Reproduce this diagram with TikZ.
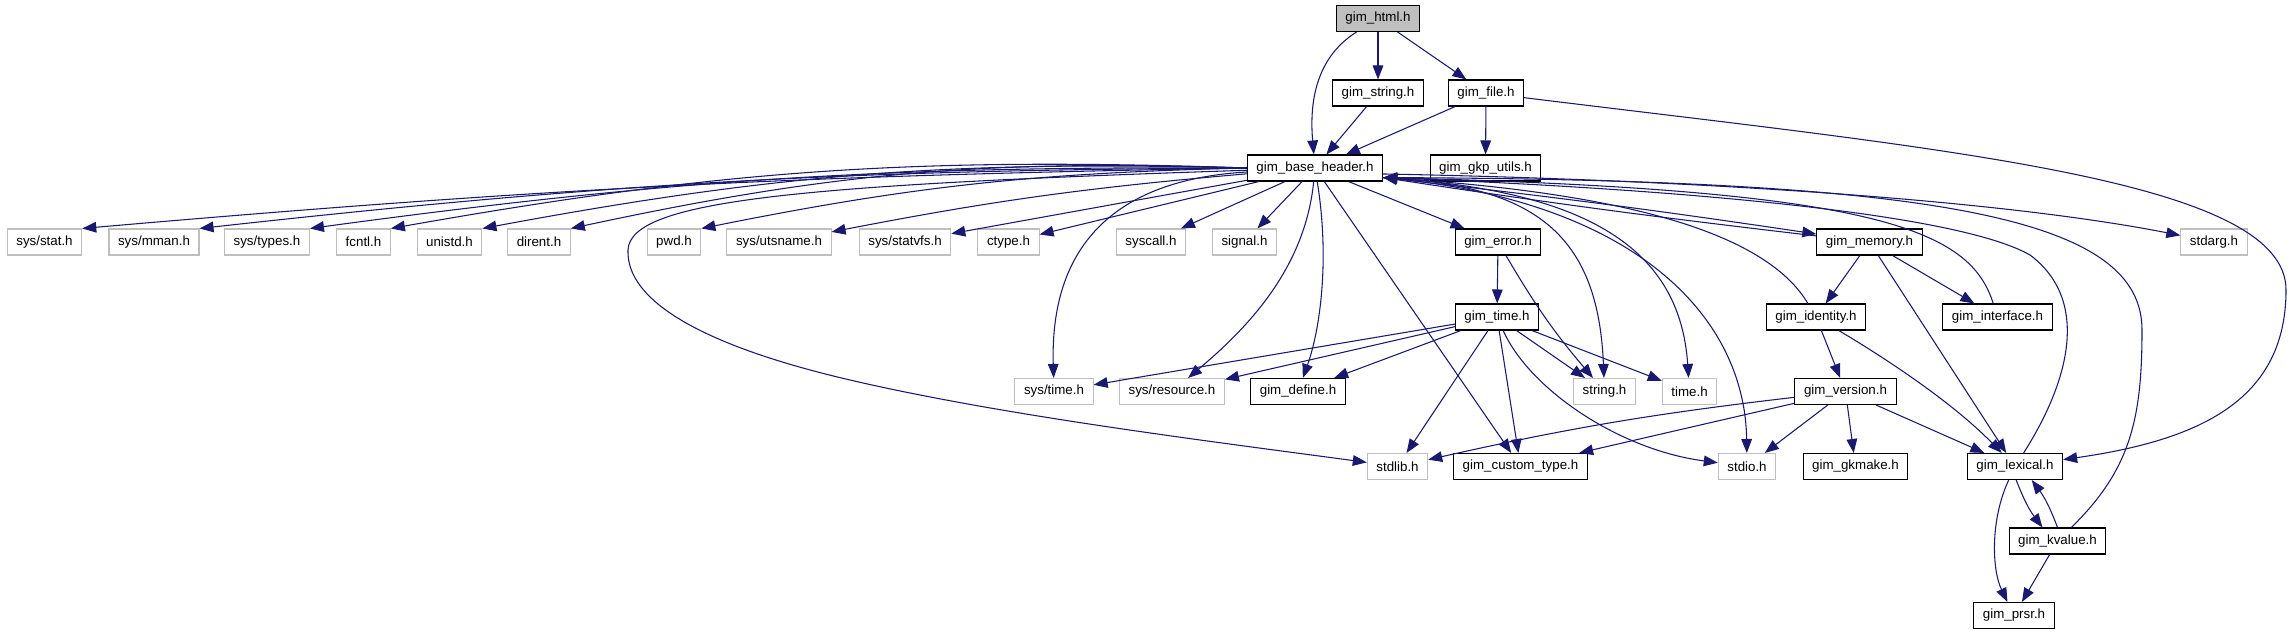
\documentclass[tikz,border=0pt]{standalone}
\usepackage{fontspec}
\setmainfont{Liberation Sans}
\usetikzlibrary{arrows.meta}
\definecolor{edgeblue}{HTML}{191970}
\definecolor{boxgray}{HTML}{BFBFBF}
\tikzset{
  hdr/.style={draw=black,line width=0.8pt,fill=white,inner xsep=6.8pt,inner ysep=0pt,minimum height=19.5pt,font=\fontsize{10}{12}\selectfont},
  sys/.style={hdr,draw=boxgray},
  root/.style={hdr,fill=boxgray},
  dep/.style={edgeblue,line width=0.8pt,-{Triangle[length=10.5pt,width=8pt]}}
}
\begin{document}
\begin{tikzpicture}[x=0.75pt,y=-0.75pt]
\useasboundingbox (0,0) rectangle (2291,635);
\node[root] (html) at (1378,18.5) {gim\_html.h};
\node[hdr] (str) at (1378,93) {gim\_string.h};
\node[hdr] (file) at (1486,93) {gim\_file.h};
\node[hdr] (base) at (1315,168) {gim\_base\_header.h};
\node[hdr] (gkp) at (1485.5,168) {gim\_gkp\_utils.h};
\node[sys] (stat) at (44.5,242) {sys/stat.h};
\node[sys] (mman) at (154,242) {sys/mman.h};
\node[sys] (types) at (267,242) {sys/types.h};
\node[sys] (fcntl) at (363.5,242) {fcntl.h};
\node[sys] (unistd) at (449.5,242) {unistd.h};
\node[sys] (dirent) at (539,242) {dirent.h};
\node[sys] (pwd) at (674,242) {pwd.h};
\node[sys] (utsname) at (779,242) {sys/utsname.h};
\node[sys] (statvfs) at (905,242) {sys/statvfs.h};
\node[sys] (ctype) at (1008.5,242) {ctype.h};
\node[sys] (syscall) at (1151,242) {syscall.h};
\node[sys] (signal) at (1244.5,242) {signal.h};
\node[hdr] (error) at (1498,242) {gim\_error.h};
\node[hdr] (memory) at (1869.5,242) {gim\_memory.h};
\node[sys] (stdarg) at (2214,242) {stdarg.h};
\node[hdr] (gtime) at (1497,317) {gim\_time.h};
\node[hdr] (identity) at (1816,317) {gim\_identity.h};
\node[hdr] (interface) at (1997.5,317) {gim\_interface.h};
\node[sys] (systime) at (1054,391.5) {sys/time.h};
\node[sys] (sysres) at (1172,391.5) {sys/resource.h};
\node[hdr] (define) at (1298,391.5) {gim\_define.h};
\node[sys] (strh) at (1604.5,391.5) {string.h};
\node[sys] (timeh) at (1689.5,391.5) {time.h};
\node[hdr] (version) at (1845.5,391.5) {gim\_version.h};
\node[sys] (stdlib) at (1397.5,466.5) {stdlib.h};
\node[hdr] (custom) at (1520.5,466.5) {gim\_custom\_type.h};
\node[sys] (stdio) at (1747,466.5) {stdio.h};
\node[hdr] (gkmake) at (1855.5,466.5) {gim\_gkmake.h};
\node[hdr] (lexical) at (2015,466.5) {gim\_lexical.h};
\node[hdr] (kvalue) at (2057.5,541) {gim\_kvalue.h};
\node[hdr] (prsr) at (2014,615.5) {gim\_prsr.h};

\draw[dep] (html) .. controls (1312,60) and (1310,110) .. (base);
\draw[dep] (html) -- (str);
\draw[dep] (html) -- (file);
\draw[dep] (str) -- (base);
\draw[dep] (file) -- (base);
\draw[dep] (file) -- (gkp);
\draw[dep] (file) .. controls (1950,150) and (2286,180) .. (2286,290) .. controls (2286,400) and (2200,440) .. (lexical);

\draw[dep] (base.west) to[bend right=2] (stat.north east);
\draw[dep] (base.west) to[bend right=3] (mman.north east);
\draw[dep] (base.west) to[bend right=4] (types.north east);
\draw[dep] (base.west) to[bend right=6] (fcntl.north east);
\draw[dep] (base.west) to[bend right=6] (unistd.north east);
\draw[dep] (base.west) to[bend right=7] (dirent.north east);
\draw[dep] (base.west) to[bend right=5] (pwd.north east);
\draw[dep] (base) to[bend right=3] (utsname);
\draw[dep] (base) -- (statvfs);
\draw[dep] (base) -- (ctype);
\draw[dep] (base) -- (syscall);
\draw[dep] (base) -- (signal);
\draw[dep] (base) .. controls (800,185) and (630,200) .. (628,250) .. controls (626,300) and (700,345) .. (850,380) .. controls (1000,415) and (1200,440) .. (stdlib);
\draw[dep] (base) .. controls (1110,180) and (1050,250) .. (systime);
\draw[dep] (base) .. controls (1305,270) and (1245,330) .. (sysres);
\draw[dep] (base) .. controls (1330,260) and (1320,330) .. (define);
\draw[dep] (base) -- (custom);
\draw[dep] (base) -- (error);
\draw[dep] (base.-8) .. controls (1530,185) and (1598,230) .. (strh);
\draw[dep] (base.-8) .. controls (1590,190) and (1680,250) .. (timeh);
\draw[dep] (base.-8) .. controls (1640,200) and (1745,320) .. (stdio);
\draw[dep] (base.-8) to[bend left=1] (memory);
\draw[dep] (memory) to[bend left=1] (base.-8);
\draw[dep] (base.-5) .. controls (1700,180) and (2000,200) .. (stdarg);

\draw[dep] (identity) .. controls (1770,240) and (1650,195) .. (base.-8);
\draw[dep] (interface) .. controls (1970,230) and (1880,190) .. (base.-8);
\draw[dep] (lexical) .. controls (2070,380) and (2090,300) .. (2030,255) .. controls (1960,215) and (1700,190) .. (base.-8);
\draw[dep] (kvalue) .. controls (2130,470) and (2142,420) .. (2142,330) .. controls (2142,220) and (1950,180) .. (base.-8);

\draw[dep] (error) -- (gtime);
\draw[dep] (error) to[bend right=5] (strh);
\draw[dep] (gtime) -- (systime);
\draw[dep] (gtime) -- (sysres);
\draw[dep] (gtime) -- (define);
\draw[dep] (gtime) -- (stdlib);
\draw[dep] (gtime) -- (custom);
\draw[dep] (gtime) .. controls (1530,390) and (1620,450) .. (stdio);
\draw[dep] (gtime) -- (strh);
\draw[dep] (gtime) -- (timeh);

\draw[dep] (memory) -- (identity);
\draw[dep] (memory) -- (interface);
\draw[dep] (memory) -- (lexical);
\draw[dep] (identity) -- (version);
\draw[dep] (identity) .. controls (1880,355) and (1950,400) .. (lexical);
\draw[dep] (version) -- (lexical);
\draw[dep] (version) -- (gkmake);
\draw[dep] (version) -- (stdio);
\draw[dep] (version) -- (custom);
\draw[dep] (version) to[bend right=3] (stdlib);
\draw[dep] (lexical.-85) to[bend right=8] (kvalue.138);
\draw[dep] (kvalue.north) to[bend right=8] (lexical.-39);
\draw[dep] (lexical) .. controls (1990,520) and (1992,570) .. (prsr);
\draw[dep] (kvalue) -- (prsr);
\end{tikzpicture}
\end{document}
